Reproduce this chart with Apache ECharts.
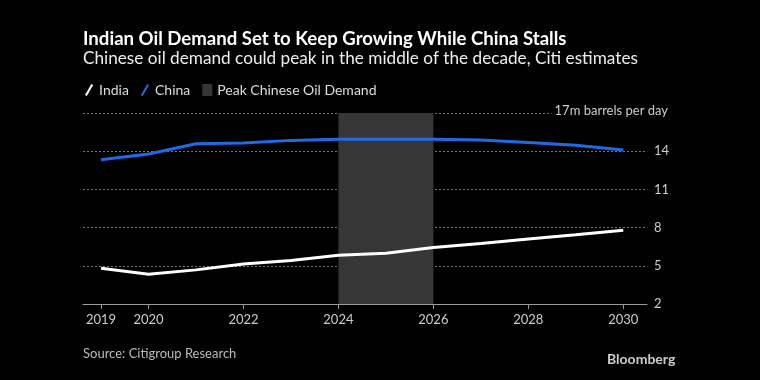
<!DOCTYPE html>
<html>
<head>
<meta charset="utf-8">
<script src="https://cdn.jsdelivr.net/npm/echarts@6/dist/echarts.min.js"></script>
<style>html,body{margin:0;padding:0;background:#000;}#c{width:760px;height:380px;}</style>
</head>
<body>
<div id="c"></div>
<script>
const years = [2019, 2020, 2021, 2022, 2023, 2024, 2025, 2026, 2027, 2028, 2029, 2030];
const india = [4.81, 4.33, 4.68, 5.15, 5.41, 5.83, 5.99, 6.43, 6.75, 7.11, 7.43, 7.80];
const china = [13.33, 13.78, 14.59, 14.64, 14.85, 14.93, 14.93, 14.93, 14.88, 14.69, 14.46, 14.09];
const xTickYears = [2019, 2020, 2022, 2024, 2026, 2028, 2030];
const peakStart = 2024;
const peakEnd = 2026;
const yTicks = [2, 5, 8, 11, 14, 17];
const unitLabel = '17m barrels per day';

const FONT = 'Lato';
const chart = echarts.init(document.getElementById('c'), null, {renderer: 'canvas'});
const slash = 'path://M0,12 L7,0 L9,1.2 L2,13.2 Z';
chart.setOption({
  backgroundColor: '#000',
  animation: false,
  textStyle: {fontFamily: FONT},
  title: [
    {text: 'Indian Oil Demand Set to Keep Growing While China Stalls', left: 83, top: 29, padding: 0,
     textStyle: {color: '#fff', fontSize: 18.6, fontWeight: 'bold', fontFamily: FONT}},
    {text: 'Chinese oil demand could peak in the middle of the decade, Citi estimates', left: 83, top: 50, padding: 0,
     textStyle: {color: '#eee', fontSize: 17.2, fontWeight: 'normal', fontFamily: FONT}},
    {text: 'Source: Citigroup Research', left: 83, top: 347, padding: 0,
     textStyle: {color: '#bbb', fontSize: 13, fontWeight: 'normal', fontFamily: FONT}},
    {text: 'Bloomberg', left: 607, top: 352, padding: 0,
     textStyle: {color: '#ccc', fontSize: 14, fontWeight: 'bold', fontFamily: FONT}}
  ],
  legend: {
    left: 85, top: 83, padding: 0, itemWidth: 10, itemHeight: 12, itemGap: 12,
    textStyle: {color: '#ddd', fontSize: 14, fontFamily: FONT},
    data: [
      {name: 'India', icon: slash},
      {name: 'China', icon: slash},
      {name: 'Peak Chinese Oil Demand', icon: 'rect'}
    ]
  },
  grid: {left: 83, right: 113, top: 113, bottom: 76, containLabel: false},
  xAxis: {
    type: 'value', min: 2018.62, max: 2030.5,
    axisLine: {show: true, lineStyle: {color: '#999', width: 1}},
    axisTick: {show: true, length: 5, customValues: xTickYears, lineStyle: {color: '#999'}},
    axisLabel: {customValues: xTickYears, color: '#ccc', fontSize: 13, margin: 9, fontFamily: FONT,
                formatter: v => String(v)},
    splitLine: {show: false}
  },
  yAxis: {
    type: 'value', position: 'right', min: 2, max: 17, interval: 3,
    axisLine: {show: false}, axisTick: {show: false},
    axisLabel: {color: '#ccc', fontSize: 13, margin: 7, fontFamily: FONT,
                formatter: v => (v === 17 ? '' : String(v))},
    splitLine: {show: true, lineStyle: {color: '#777', type: [2, 2], width: 1}}
  },
  graphic: [
    {type: 'text', right: 92, top: 104, z: 10,
     style: {text: unitLabel, fill: '#ccc', fontSize: 13, fontFamily: FONT,
             backgroundColor: '#000', padding: [0, 0, 0, 3]}}
  ],
  series: [
    {name: 'Peak Chinese Oil Demand', type: 'line', data: [], color: '#363636',
     markArea: {silent: true, itemStyle: {color: '#363636'},
       data: [[{xAxis: peakStart, yAxis: 2}, {xAxis: peakEnd, yAxis: 17}]]}},
    {name: 'India', type: 'line', data: years.map((y, i) => [y, india[i]]),
     color: '#fff', symbol: 'none', lineStyle: {width: 3, color: '#fff'}, z: 3},
    {name: 'China', type: 'line', data: years.map((y, i) => [y, china[i]]),
     color: '#1f6be6', symbol: 'none', lineStyle: {width: 3, color: '#1f6be6'}, z: 3}
  ]
});
</script>
</body>
</html>
